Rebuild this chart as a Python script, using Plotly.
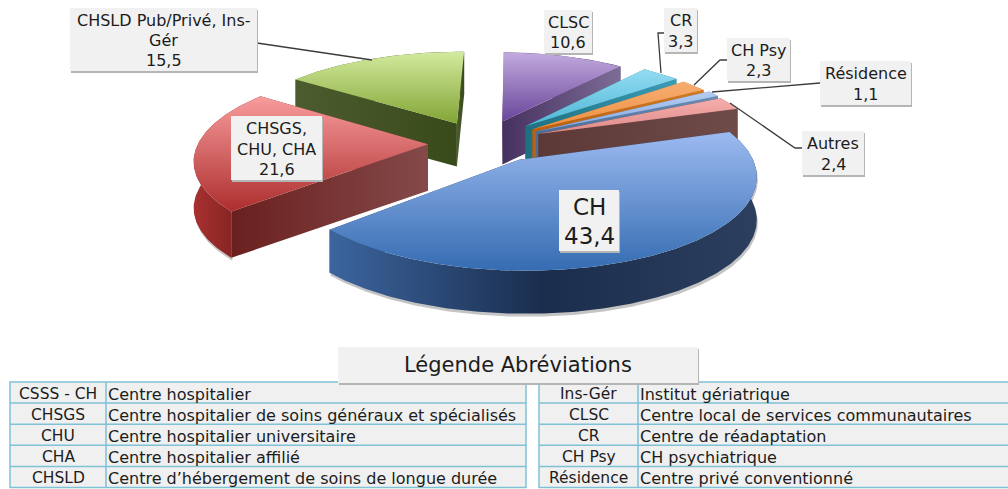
import math
import plotly.graph_objects as go

# ---- data ----
slice_names = ["CH", "CHSGS, CHU, CHA", "CHSLD Pub/Privé, Ins-Gér", "CLSC", "CR", "CH Psy", "Résidence", "Autres"]
slice_values = [43.4, 21.6, 15.5, 10.6, 3.3, 2.3, 1.1, 2.4]
legend_left_codes = ["CSSS - CH", "CHSGS", "CHU", "CHA", "CHSLD"]
legend_left_names = ["Centre hospitalier", "Centre hospitalier de soins généraux et spécialisés",
                     "Centre hospitalier universitaire", "Centre hospitalier affilié",
                     "Centre d’hébergement de soins de longue durée"]
legend_right_codes = ["Ins-Gér", "CLSC", "CR", "CH Psy", "Résidence"]
legend_right_names = ["Institut gériatrique", "Centre local de services communautaires",
                      "Centre de réadaptation", "CH psychiatrique", "Centre privé conventionné"]

# ---- style ----
FONT = "DejaVu Sans"
CX, CY, K, D, R, H = 482, 143, 0.39, 1500, 232, 43
START = 18
explode = [55, 54, 58, 61, 63, 63, 63, 62]
explode_turn = [11, 0, 0, 0, 0, 0, 0, 0]
radius_scale = [0.98, 0.99, 0.97, 0.94, 0.96, 0.96, 0.97, 0.97]
depth_scale = [1, 1.08, 1, 1, 1, 1, 1, 1]
top_cols = [("#9cbaf0", "#356cb2"), ("#f89c9c", "#ad2e2e"), ("#d2ea9e", "#82a535"), ("#c2aade", "#68459a"),
            ("#93dcf2", "#4fb6d6"), ("#f6ad72", "#ee9040"), ("#b4ccf2", "#86a8e0"), ("#f6aeac", "#de8a88")]
rim_cols = [("#3c659e", "#1a2d4d", "#2d3f5e"), ("#a83030", "#8c2626", "#7d2222"), ("#3e4c20", "#3e4c20", "#3e4c20"),
            ("#46305f", "#46305f", "#46305f"), ("#1e6f80", "#1e6f80", "#1e6f80"), ("#b85f10", "#b85f10", "#b85f10"),
            ("#4b6d96", "#4b6d96", "#4b6d96"), ("#6b4745", "#6b4745", "#6b4745")]
cut_cols = [("#1a2d4d", "#2d4a75"), ("#6a201e", "#85494a"), ("#4d5c2e", "#38491a"), ("#46305f", "#7d6d96"),
            ("#1e6f80", "#3a9cb5"), ("#b85f10", "#d07a25"), ("#4b6d96", "#6a8cb5"), ("#5c3836", "#6e4a48")]
shadowed = {0, 1}

def project(X, Y, Z=0):
    s = D / (D + Y)
    return CX + X * s, CY - K * Y * s + Z

fig = go.Figure()

def poly(pts, grad_type, stops):
    n = len(stops) - 1
    fig.add_trace(go.Scatter(
        x=[p[0] for p in pts] + [pts[0][0]], y=[p[1] for p in pts] + [pts[0][1]],
        mode="lines", line=dict(width=0), fill="toself", hoverinfo="skip", showlegend=False,
        fillgradient=dict(type=grad_type, colorscale=[[i / n, c] for i, c in enumerate(stops)])))

total = sum(slice_values)
wedges = []
a = START
for i, v in enumerate(slice_values):
    sweep = 360 * v / total
    a1, a2 = a, a - sweep
    a = a2
    mid = math.radians((a1 + a2) / 2 + explode_turn[i])
    ox, oy = explode[i] * math.cos(mid), explode[i] * math.sin(mid)
    r = R * radius_scale[i]
    arc = []
    steps = max(6, int(sweep * 1.5))
    for j in range(steps + 1):
        t = math.radians(a1 + (a2 - a1) * j / steps)
        arc.append((ox + r * math.cos(t), oy + r * math.sin(t)))
    wedges.append((i, (ox, oy), arc))

draw_order = [2, 3, 1, 4, 5, 6, 7, 0]
for i, apex, arc in [wedges[n] for n in draw_order]:
    h = H * depth_scale[i]
    top = [project(*p) for p in [apex] + arc]
    rim = [project(*p) for p in arc] + [project(*p, h) for p in reversed(arc)]
    if i in shadowed:
        poly([(x + 1, y + 3) for x, y in rim], "vertical", ["#c4c4c4", "#c4c4c4"])
    faces = []
    for edge in (arc[0], arc[-1]):
        face = [project(*apex), project(*edge), project(*edge, h), project(*apex, h)]
        faces.append(((apex[1] + edge[1]) / 2, face))
    rim_y = sum(p[1] for p in arc) / len(arc)
    items = [(y, "cut", f) for y, f in faces] + [(rim_y, "rim", rim)]
    for _, kind, pts in sorted(items, key=lambda it: -it[0]):
        if kind == "rim":
            poly(pts, "horizontal", list(rim_cols[i]))
        else:
            poly(pts, "horizontal", list(cut_cols[i]))
    poly(top, "vertical", [top_cols[i][1], top_cols[i][0]])

shapes, annos = [], []

def box(x0, y0, x1, y1, fill="#f1f1f1"):
    shapes.append(dict(type="rect", x0=x0 + 1, y0=y0 + 2, x1=x1 + 1, y1=y1 + 2, fillcolor="#b5b5b5", line_width=0))
    shapes.append(dict(type="rect", x0=x0, y0=y0, x1=x1, y1=y1, fillcolor=fill, line_width=0))

def text(x, y, s, size, anchor="center", color="#1c1c1c"):
    annos.append(dict(x=x, y=y, text=s, showarrow=False, xanchor=anchor, yanchor="middle",
                      font=dict(family=FONT, size=size, color=color), xref="x", yref="y"))

def val(v):
    return f"{v:.1f}".replace(".", ",")

def leader(*pts):
    path = "M " + " L ".join(f"{x},{y}" for x, y in pts)
    shapes.append(dict(type="path", path=path, line=dict(color="#3c3c3c", width=1.3)))

leader((257, 43), (372, 60))
leader((664, 33), (658, 33), (661, 73))
leader((727, 60), (720, 60), (694, 85))
leader((820, 83), (712, 92))
leader((802, 148), (795, 148), (730, 103))

label_boxes = [(559, 190, 619, 251, 23), (231, 116, 322, 180, 16), (70, 8, 257, 71, 16), (544, 10, 592, 53, 16),
               (664, 8, 697, 52, 16), (727, 38, 790, 81, 16), (820, 61, 911, 105, 16), (802, 131, 864, 175, 16)]
label_lines = [[slice_names[0]], ["CHSGS,", "CHU, CHA"], ["CHSLD Pub/Privé, Ins-", "Gér"]] + [[n] for n in slice_names[3:]]
for (x0, y0, x1, y1, fs), lines, v in zip(label_boxes, label_lines, slice_values):
    box(x0, y0, x1, y1)
    all_lines = lines + [val(v)]
    n = len(all_lines)
    step = fs * 1.28
    ymid = (y0 + y1) / 2 + 1
    for j, ln in enumerate(all_lines):
        text((x0 + x1) / 2, ymid + (j - (n - 1) / 2) * step, ln, fs)

# legend
BORDER = "#7fc1d6"
def table(x0, xm, x1, codes, names):
    top, rowh = 382, 21.1
    rows = len(codes)
    shapes.append(dict(type="rect", x0=x0, x1=x1, y0=top, y1=top + rows * rowh, fillcolor="#f0f0f0",
                       line=dict(color=BORDER, width=1.5)))
    shapes.append(dict(type="line", x0=xm, x1=xm, y0=top, y1=top + rows * rowh, line=dict(color=BORDER, width=1.5)))
    for r in range(1, rows):
        shapes.append(dict(type="line", x0=x0, x1=x1, y0=top + r * rowh, y1=top + r * rowh, line=dict(color=BORDER, width=1.5)))
    for r, (c, n) in enumerate(zip(codes, names)):
        y = top + (r + .5) * rowh + 1.5
        text((x0 + xm) / 2, y, c, 15.5)
        text(xm, y, n, 16, "left")

table(10, 106, 526, legend_left_codes, legend_left_names)
table(539, 638, 1010, legend_right_codes, legend_right_names)
box(338, 347, 698, 383)
text(518, 365, "Légende Abréviations", 21)

fig.update_layout(
    width=1008, height=489, margin=dict(l=0, r=0, t=0, b=0), paper_bgcolor="white", plot_bgcolor="white",
    xaxis=dict(range=[0, 1008], visible=False, fixedrange=True),
    yaxis=dict(range=[489, 0], visible=False, fixedrange=True),
    shapes=shapes, annotations=annos, showlegend=False)
fig.write_html("out.html", config=dict(displayModeBar=False),
               post_script="document.body.style.margin='0';document.documentElement.style.overflow='hidden';")
